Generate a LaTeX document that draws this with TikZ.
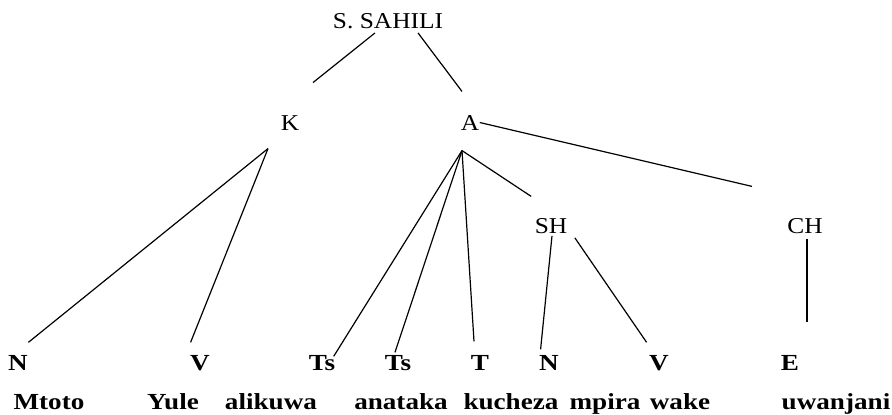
\documentclass[tikz,border=0pt]{standalone}
\usepackage{fontspec}
\setmainfont{Liberation Serif}
\newfontfamily\treefont[FakeStretch=1.12]{Liberation Serif}
\newfontfamily\leaffont[FakeStretch=1.18]{Liberation Serif}
\begin{document}
\begin{tikzpicture}[x=0.75pt,y=-0.75pt,line width=0.9pt,
    cat/.style={inner sep=0pt,anchor=base,font=\treefont\fontsize{17}{19}\selectfont},
    lab/.style={inner sep=0pt,anchor=base,font=\leaffont\fontsize{17.25}{19}\bfseries\selectfont},
    word/.style={lab}]
            \useasboundingbox (0,0) rectangle (892,414);
            \node[cat] (root) at (388,28) {S. SAHILI};
            \node[cat] (k) at (290,130) {K};
            \node[cat] (a) at (470,130) {A};
            \node[cat] (sh) at (551,233) {SH};
            \node[cat] (ch) at (805,233) {CH};
            \node[lab] (n1) at (18,370) {N};
            \node[lab] (v1) at (200,370) {V};
            \node[lab] (ts1) at (322,370) {Ts};
            \node[lab] (ts2) at (398,370) {Ts};
            \node[lab] (t) at (480,370) {T};
            \node[lab] (n2) at (549,370) {N};
            \node[lab] (v2) at (659,370) {V};
            \node[lab] (e) at (790,370) {E};
            \node[word] (w1) at (49,409) {Mtoto};
            \node[word] (w2) at (173,409) {Yule};
            \node[word] (w3) at (271,409) {alikuwa};
            \node[word] (w4) at (401,409) {anataka};
            \node[word] (w5) at (511,409) {kucheza};
            \node[word] (w6) at (605,409) {mpira};
            \node[word] (w7) at (680,409) {wake};
            \node[word] (w8) at (836,409) {uwanjani};
            \coordinate (kfork) at ([shift={(-22,18)}]k.south);
            \coordinate (afork) at ([shift={(-8,20)}]a.south);
            \draw([shift={(-13,4)}]root.south)--([shift={(23,-32)}]k.north);
            \draw([shift={(30,4)}]root.south)--([shift={(-8,-23)}]a.north);
            \draw(a.east)--([shift={(-53,-31)}]ch.north);
            \draw(kfork)--([shift={(0,-12)}]n1.north east);
            \draw(kfork)--([shift={(1,-12)}]v1.north west);
            \draw(afork)--([shift={(-2,2)}]ts1.north east);
            \draw(afork)--([shift={(-3,-2)}]ts2.north);
            \draw(afork)--([shift={(-6,-13)}]t.north);
            \draw(afork)--([shift={(-3,-21)}]sh.north west);
            \draw([shift={(1,2)}]sh.south)--([shift={(2,-5)}]n2.north west);
            \draw([shift={(7,4)}]sh.south east)--([shift={(-2,-12)}]v2.north west);
            \draw([shift={(2,5)}]ch.south)--([shift={(17,-32)}]e.north);
\end{tikzpicture}
\end{document}
